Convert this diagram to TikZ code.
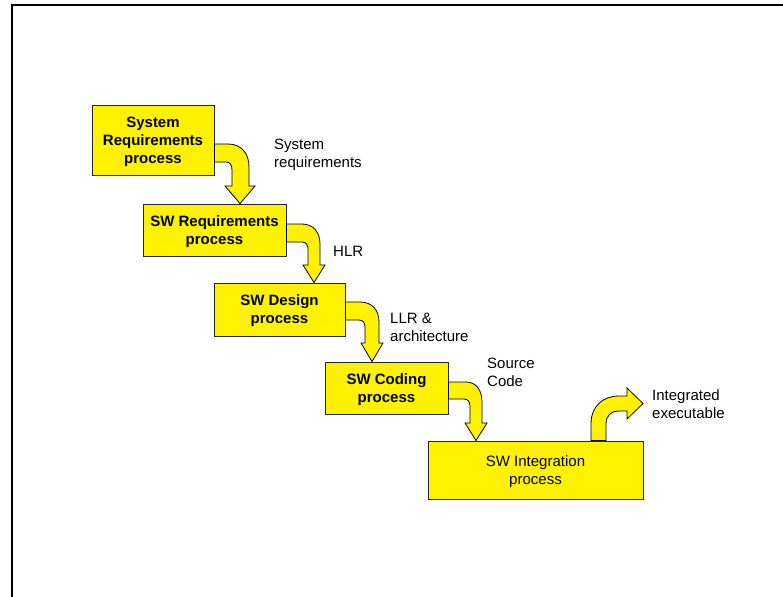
\documentclass[tikz,border=0pt]{standalone}
\usepackage{fontspec}
\setmainfont{Liberation Sans}
\usetikzlibrary{calc}
\begin{document}
\begin{tikzpicture}[x=1pt,y=-1pt,
  box/.style={draw=black!85, fill=yellow, line width=0.9pt, inner sep=0pt, align=center, text depth=0pt,
    font=\fontsize{15}{18}\selectfont\bfseries},
  plainbox/.style={box, font=\fontsize{15}{18}\selectfont},
  barrow/.style={draw=black, fill=yellow, line width=0.8pt, line join=miter},
  lbl/.style={anchor=west, align=left, inner sep=0pt, font=\fontsize{15}{18}\selectfont}]
\useasboundingbox (0,0) rectangle (783,596);
\draw[line width=2pt] (12,597) -- (12,5.5) -- (784,5.5);

\node[box, minimum width=122pt, minimum height=70pt] (b1) at (153,140) {System\\Requirements\\process};
\node[box, minimum width=143pt, minimum height=52pt] (b2) at (214.5,230) {SW Requirements\\process};
\node[box, minimum width=131pt, minimum height=53pt] (b3) at (279.5,309.5) {SW Design\\process};
\node[box, minimum width=123pt, minimum height=52pt] (b4) at (386.5,388) {SW Coding\\process};
\node[plainbox, minimum width=215pt, minimum height=58pt] (b5) at (535.5,470) {SW Integration\\process};

% arrow 1
\filldraw[barrow] let \p1=(b1.east), \p2=(b2.north) in
  (\x1,144) -- (228,144) .. controls (241,144) and (249,153) .. (249,167) -- (249,186) -- (255,186)
  -- (240,\y2) -- (225,186) -- (232,186) -- (232,170) .. controls (232,165) and (230,162) .. (226,162)
  -- (\x1,162) -- cycle;
% arrow 2
\filldraw[barrow] let \p1=(b2.east), \p2=(b3.north) in
  (\x1,224) -- (302,224) .. controls (313,224) and (320,232) .. (320,244) -- (320,265) -- (325,265)
  -- (314,\y2) -- (303,265) -- (308,265) -- (308,249) .. controls (308,245) and (306,242) .. (302,242)
  -- (\x1,242) -- cycle;
% arrow 3
\filldraw[barrow] let \p1=(b3.east), \p2=(b4.north) in
  (\x1,302) -- (360,302) .. controls (372,302) and (379,310) .. (379,322) -- (379,343) -- (383,343)
  -- (372,\y2) -- (361,343) -- (365,343) -- (365,327) .. controls (365,323) and (363,320) .. (359,320)
  -- (\x1,320) -- cycle;
% arrow 4
\filldraw[barrow] let \p1=(b4.east), \p2=(b5.north) in
  (\x1,382) -- (466,382) .. controls (476,382) and (482,390) .. (482,402) -- (482,423) -- (487,423)
  -- (476,\y2) -- (465,423) -- (470,423) -- (470,406) .. controls (470,402) and (468,399) .. (464,399)
  -- (\x1,399) -- cycle;
% arrow 5
\filldraw[barrow] let \p1=(b5.north) in
  (591,\y1) -- (591,424) .. controls (591,406) and (603,396) .. (619,396) -- (627,396) -- (627,388)
  -- (643,403.5) -- (627,419) -- (627,411) -- (618,411) .. controls (611,411) and (606,416) .. (606,424)
  -- (606,\y1) -- cycle;

\node[lbl] (l1) at (274,155) {System\\requirements};
\node[lbl] (l2) at (333,251) {HLR};
\node[lbl] (l3) at (390,327) {LLR \&\\architecture};
\node[lbl] (l4) at (487,372) {Source\\Code};
\node[lbl] (l5) at (652,404) {Integrated\\executable};
\end{tikzpicture}
\end{document}
